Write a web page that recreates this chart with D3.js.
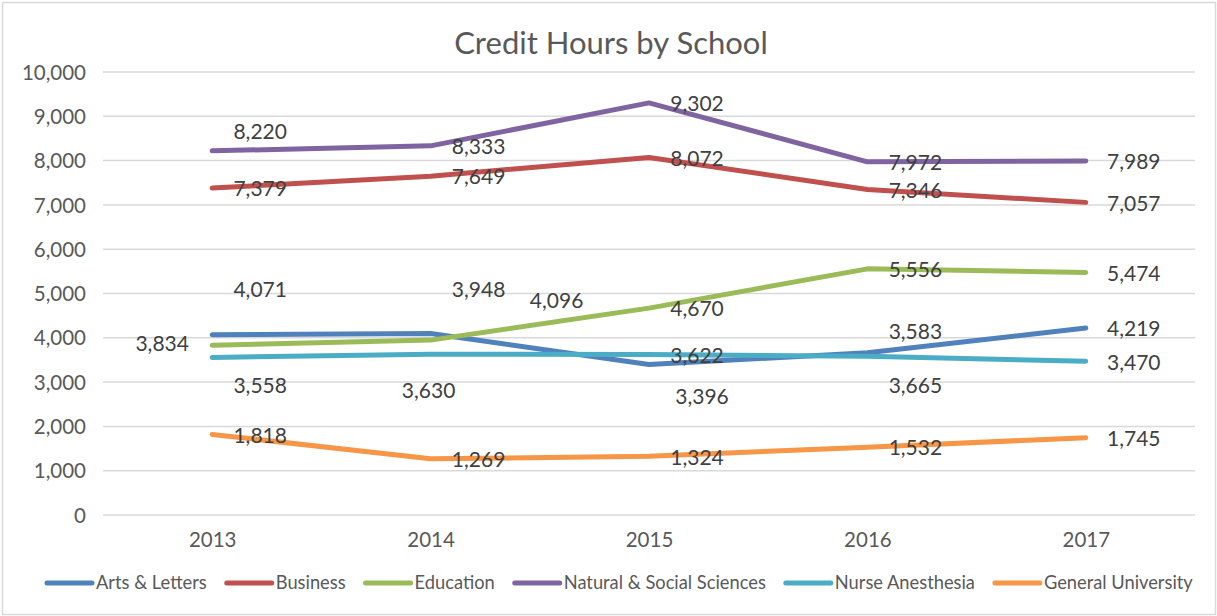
<!DOCTYPE html>
<html lang="en">
<head>
<meta charset="utf-8">
<title>Credit Hours by School</title>
<script src="https://d3js.org/d3.v7.min.js"></script>
<style>
  body { margin: 0; background: white; }
  text { font-family: Lato, "Open Sans", sans-serif; }
</style>
</head>
<body>
<div id="chart"></div>
<script>
// data
var years = ["2013", "2014", "2015", "2016", "2017"];
var schools = ["Arts & Letters", "Business", "Education", "Natural & Social Sciences", "Nurse Anesthesia", "General University"];
var artsLetters = [4071, 4096, 3396, 3665, 4219];
var business = [7379, 7649, 8072, 7346, 7057];
var education = [3834, 3948, 4670, 5556, 5474];
var naturalSocial = [8220, 8333, 9302, 7972, 7989];
var nurseAnesthesia = [3558, 3630, 3622, 3583, 3470];
var generalUniversity = [1818, 1269, 1324, 1532, 1745];
var yTicks = [0, 1000, 2000, 3000, 4000, 5000, 6000, 7000, 8000, 9000, 10000];

// layout
var w = 1217, h = 616;
var colors = ["#4F81BD", "#C0504D", "#9BBB59", "#8064A2", "#4BACC6", "#F79646"];
var allValues = [artsLetters, business, education, naturalSocial, nurseAnesthesia, generalUniversity];

// where Excel put each data label, pixels from the point (default: right of point)
var labelNudge = {
  "0-0": [48, -45], "0-1": [126, -33], "0-2": [53, 32], "0-3": [48, 33],
  "2-0": [-50, -2], "2-1": [48, -50],
  "3-0": [48, -19],
  "4-0": [48, 28], "4-1": [-2, 36], "4-3": [48, -25]
};

var svg = d3.select("#chart").append("svg")
  .attr("width", w).attr("height", h);

svg.append("rect")
  .attr("x", 2.5).attr("y", 2.5)
  .attr("width", w - 4).attr("height", h - 4)
  .attr("fill", "white").attr("stroke", "#d9d9d9").attr("stroke-width", 1.5);

var x = d3.scalePoint().domain(years).range([103, 1195]).padding(0.5);
var y = d3.scaleLinear().domain([0, 10000]).range([515, 72]);
var fmt = d3.format(",");

// title
svg.append("text")
  .attr("x", 611).attr("y", 54)
  .attr("text-anchor", "middle")
  .attr("fill", "#595959")
  .style("font-size", "31px")
  .text("Credit Hours by School");

// gridlines
svg.append("g").selectAll("line")
  .data(yTicks).enter().append("line")
  .attr("x1", 103).attr("x2", 1195)
  .attr("y1", function(d) { return y(d); })
  .attr("y2", function(d) { return y(d); })
  .attr("stroke", "#d9d9d9").attr("stroke-width", 1.5);

// y axis labels
var yAxis = d3.axisLeft(y).tickValues(yTicks).tickFormat(fmt).tickSize(0).tickPadding(0);
var gy = svg.append("g").attr("transform", "translate(86,0)").call(yAxis);
gy.select(".domain").remove();
gy.selectAll("text").attr("fill", "#595959").style("font-size", "20.5px")
  .attr("font-family", null).attr("dy", "0.35em");

// x axis labels
var xAxis = d3.axisBottom(x).tickSize(0).tickPadding(0);
var gx = svg.append("g").attr("transform", "translate(0,532)").call(xAxis);
gx.select(".domain").remove();
gx.selectAll("text").attr("fill", "#595959").style("font-size", "20.5px")
  .attr("font-family", null).attr("dy", "0.71em");

// lines
var line = d3.line()
  .x(function(d, i) { return x(years[i]); })
  .y(function(d) { return y(d); });

svg.append("g").selectAll("path")
  .data(allValues).enter().append("path")
  .attr("d", line)
  .attr("fill", "none")
  .attr("stroke", function(d, i) { return colors[i]; })
  .attr("stroke-width", 5)
  .attr("stroke-linecap", "round")
  .attr("stroke-linejoin", "round");

// data labels
allValues.forEach(function(vals, s) {
  svg.append("g").selectAll("text")
    .data(vals).enter().append("text")
    .attr("x", function(d, i) {
      var n = labelNudge[s + "-" + i] || [48, 1];
      return x(years[i]) + n[0];
    })
    .attr("y", function(d, i) {
      var n = labelNudge[s + "-" + i] || [48, 1];
      return y(d) + n[1];
    })
    .attr("dy", "0.35em")
    .attr("text-anchor", "middle")
    .attr("fill", "#404040")
    .style("font-size", "21px")
    .text(function(d) { return fmt(d); });
});

// legend
var legend = svg.append("g").attr("transform", "translate(45,583)");
var lx = 0;
schools.forEach(function(name, i) {
  legend.append("line")
    .attr("x1", lx + 2).attr("x2", lx + 47)
    .attr("y1", 0).attr("y2", 0)
    .attr("stroke", colors[i]).attr("stroke-width", 5)
    .attr("stroke-linecap", "round");
  var t = legend.append("text")
    .attr("x", lx + 51).attr("y", 0).attr("dy", "0.35em")
    .attr("fill", "#595959")
    .style("font-size", "18.3px")
    .text(name);
  lx += 51 + t.node().getComputedTextLength() + 18;
});
</script>
</body>
</html>
